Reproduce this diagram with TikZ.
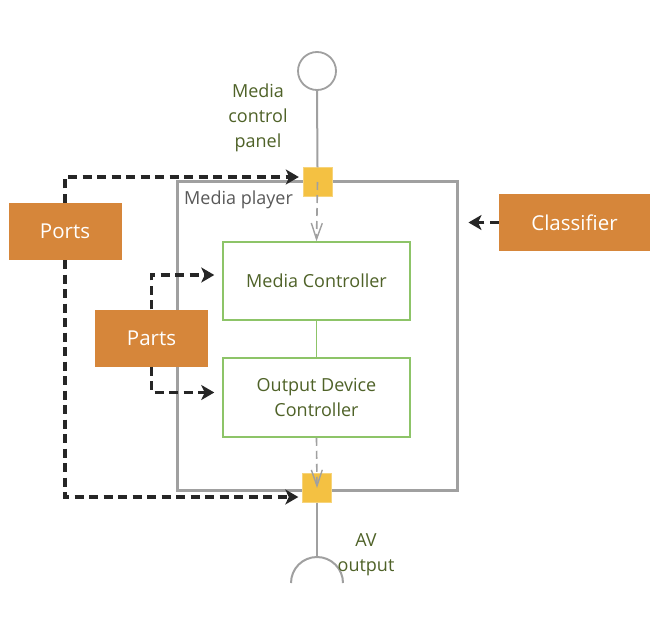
\documentclass[tikz,border=0pt]{standalone}
\usepackage{fontspec}
\setmainfont{Open Sans}
\usetikzlibrary{arrows.meta}

\definecolor{stereo}{RGB}{214,134,58}
\definecolor{portyellow}{RGB}{244,193,66}
\definecolor{framegray}{RGB}{160,160,160}
\definecolor{partgreen}{RGB}{141,196,104}
\definecolor{labelgreen}{RGB}{79,98,40}
\definecolor{playergray}{RGB}{89,89,89}
\definecolor{dashblack}{RGB}{38,38,38}

\tikzset{
  stereotype/.style={fill=stereo, text=white, inner sep=0pt, font=\fontsize{20.5}{24}\selectfont},
  partbox/.style={draw=partgreen, line width=1.5pt, fill=white, minimum width=187pt, minimum height=78pt, inner sep=0pt, align=center, text=labelgreen, font=\fontsize{18}{25}\selectfont},
  portsq/.style={fill=portyellow, draw=portyellow!70!white, minimum size=29pt, inner sep=0pt},
  deplink/.style={draw=dashblack, line width=3.6pt, dash pattern=on 9pt off 5.5pt, -{Stealth[length=13pt,width=15pt,inset=3.5pt]}},
  flowlink/.style={draw=framegray, line width=1.6pt, dash pattern=on 8pt off 5pt, -{Straight Barb[length=16pt,width=11pt,line width=1.4pt]}},
  wire/.style={draw=framegray, line width=2pt},
  tag/.style={text=labelgreen, align=center, inner sep=0pt, font=\fontsize{18}{25}\selectfont},
}

\begin{document}
\begin{tikzpicture}[x=1pt,y=-1pt]
  \useasboundingbox[fill=white] (0,0) rectangle (661,629);

  % Media player frame
  \node[draw=framegray, line width=3pt, minimum width=280pt, minimum height=309pt, inner sep=0pt] (player) at (317,335.5) {};
  \node[anchor=west, inner sep=0pt, text=playergray, font=\fontsize{18}{20}\selectfont] (playertag) at (184,200) {Media player};

  % ports on the frame
  \node[portsq] (inport) at (317.5,182) {};
  \node[portsq] (outport) at (317,488) {};

  % provided interface (top)
  \node[circle, draw=framegray, line width=1.8pt, minimum size=38pt, inner sep=0pt] (panel) at (317,71) {};
  \draw[wire] (panel.south) -- (inport.north);
  \node[tag] (paneltag) at (258,118) {Media\\control\\panel};

  % required interface (bottom)
  \coordinate (sockettop) at (317,557);
  \coordinate (socketleft) at (291,583);
  \draw[wire] (outport.south) -- (sockettop);
  \draw[wire] (socketleft) arc[start angle=180, end angle=0, radius=26pt];
  \node[tag] (avtag) at (366,555) {AV\\output};

  % parts
  \node[partbox] (ctrl) at (316.5,281) {Media Controller};
  \node[partbox, minimum height=79pt] (odc) at (316.5,397.5) {Output Device\\Controller};
  \draw[draw=partgreen, line width=1.5pt] (ctrl) -- (odc);

  % delegation
  \draw[flowlink] (inport.center) -- (ctrl.north);
  \draw[flowlink] (odc.south) -- (outport.center);

  % stereotype labels
  \node[stereotype, minimum width=113pt, minimum height=57pt] (ports) at (65,231.5) {Ports};
  \node[stereotype, minimum width=113pt, minimum height=57pt] (parts) at (151.5,338) {Parts};
  \node[stereotype, minimum width=151pt, minimum height=57pt] (classifier) at (574.5,222.5) {Classifier};

  \draw[deplink, shorten >=4pt] (ports.north) |- ([yshift=5pt]inport.west);
  \draw[deplink, shorten >=4pt] (ports.south) |- ([yshift=-9pt]outport.west);
  \draw[deplink, shorten >=8pt] (parts.north) |- ([yshift=6pt]ctrl.west);
  \draw[deplink, shorten >=8pt] (parts.south) |- ([yshift=5pt]odc.west);
  \draw[deplink, shorten >=10pt] (classifier.west) -- (classifier.west -| player.east);
\end{tikzpicture}
\end{document}
